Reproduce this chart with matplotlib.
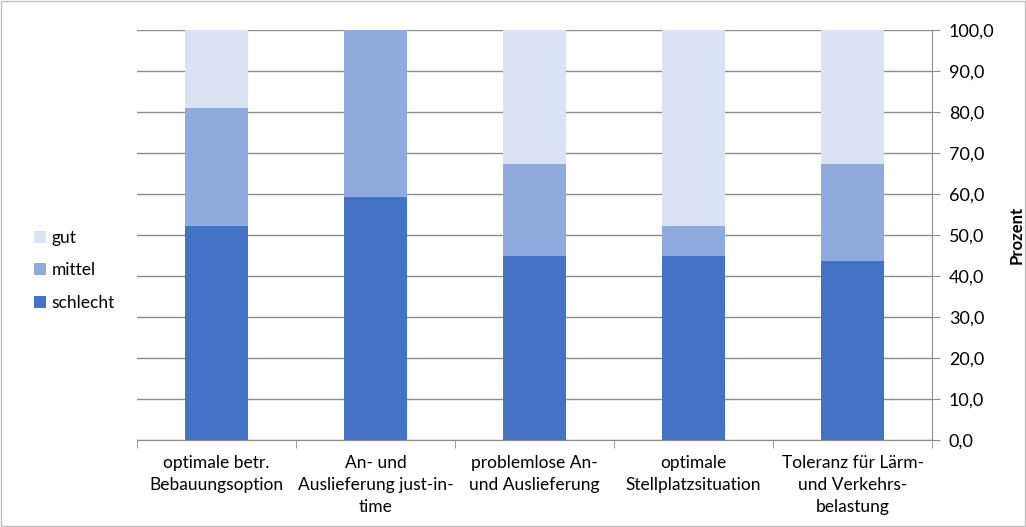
import matplotlib.pyplot as plt
from matplotlib.patches import Rectangle
import numpy as np

plt.rcParams['font.family'] = ['Lato', 'DejaVu Sans']

kategorien = [
    "optimale betr.\nBebauungsoption",
    "An- und\nAuslieferung just-in-\ntime",
    "problemlose An-\nund Auslieferung",
    "optimale\nStellplatzsituation",
    "Toleranz für Lärm-\nund Verkehrs-\nbelastung",
]
schlecht = [52.2, 59.3, 45.0, 45.0, 43.6]
mittel = [28.9, 40.7, 22.3, 7.2, 23.7]
gut = [18.9, 0.0, 32.7, 47.8, 32.7]

farben = {"schlecht": "#4472C4", "mittel": "#8FAADC", "gut": "#DAE3F3"}

fig = plt.figure(figsize=(10.26, 5.27), dpi=100)
ax = fig.add_axes([0.1335, 0.165, 0.775, 0.778])

x = np.arange(len(kategorien))
s = np.array(schlecht)
m = np.array(mittel)
g = np.array(gut)
b1 = ax.bar(x, s, width=0.4, color=farben["schlecht"], label="schlecht", zorder=3)
b2 = ax.bar(x, m, width=0.4, bottom=s, color=farben["mittel"], label="mittel", zorder=3)
b3 = ax.bar(x, g, width=0.4, bottom=s + m, color=farben["gut"], label="gut", zorder=3)

ax.set_xlim(-0.5, len(kategorien) - 0.5)
ax.set_ylim(0, 100)
ax.yaxis.tick_right()
ax.yaxis.set_label_position("right")
ax.set_yticks(np.arange(0, 101, 10))
ax.set_yticklabels([f"{v:.1f}".replace(".", ",") for v in range(0, 101, 10)])
ax.set_ylabel("Prozent", fontsize=12, fontweight="bold", labelpad=10)
ax.grid(axis="y", color="#8c8c8c", linewidth=1, zorder=0)

ax.set_xticks(x)
ax.set_xticklabels(kategorien, fontsize=12.5, linespacing=1.45)
ax.tick_params(axis="x", length=0, pad=11)
ax.set_xticks(np.arange(-0.5, len(kategorien)), minor=True)
ax.tick_params(axis="x", which="minor", length=6, color="#8c8c8c")
ax.tick_params(axis="y", labelsize=13, length=6, color="#8c8c8c", pad=6)

for side in ["left", "top"]:
    ax.spines[side].set_visible(False)
for side in ["right", "bottom"]:
    ax.spines[side].set_color("#8c8c8c")

leg = fig.legend(handles=[b3, b2, b1], labels=["gut", "mittel", "schlecht"],
                 loc="center left", bbox_to_anchor=(0.018, 0.487), frameon=False,
                 fontsize=12.5, handlelength=0.7, handleheight=0.7,
                 handletextpad=0.3, labelspacing=0.95)

fig.patches.append(Rectangle((0.001, 0.001), 0.998, 0.998, transform=fig.transFigure,
                             fill=False, edgecolor="#bfbfbf", linewidth=1))

fig.savefig("out.png", dpi=100)
